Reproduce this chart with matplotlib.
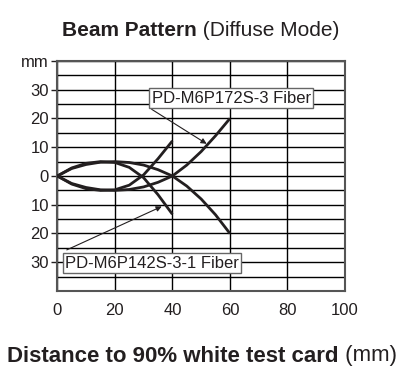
import matplotlib.pyplot as plt
import numpy as np

plt.rcParams['font.family'] = ['Liberation Sans', 'DejaVu Sans']

# PD-M6P142S-3-1 Fiber (short range)
x_short = [0, 5, 10, 15, 20, 25, 30, 35, 40]
y_short_up = [0, 2.8, 4.4, 5.0, 4.7, 3.0, -0.6, -6.5, -13.3]
y_short_down = [0, -2.8, -4.4, -5.0, -4.8, -3.2, 0.4, 6.0, 12.2]

# PD-M6P172S-3 Fiber (long range)
x_long = [0, 5, 10, 15, 20, 25, 30, 35, 40, 45, 50, 55, 60]
y_long_up = [0, 2.6, 4.0, 4.8, 5.0, 4.7, 3.8, 2.2, 0, -3.5, -8.0, -13.5, -20]
y_long_down = [0, -2.6, -4.0, -4.8, -5.0, -4.7, -3.8, -2.2, 0, 3.8, 8.5, 14.0, 20]

x_ticks = [0, 20, 40, 60, 80, 100]
y_ticks = [-30, -20, -10, 0, 10, 20, 30, 40]
y_labels = ['30', '20', '10', '0', '10', '20', '30', 'mm']

ink = '#231f20'

fig = plt.figure(figsize=(3.99, 3.69), dpi=100)
ax = fig.add_axes([0.1436, 0.2114, 0.7211, 0.6233])

for xs, ys in [(x_long, y_long_up), (x_long, y_long_down),
               (x_short, y_short_up), (x_short, y_short_down)]:
    ax.plot(xs, ys, color=ink, lw=2.0, solid_capstyle='butt', zorder=3)

ax.set_xlim(0, 100)
ax.set_ylim(-40, 40)
ax.set_xticks(x_ticks)
ax.set_yticks(y_ticks)
ax.set_yticklabels(y_labels)
ax.set_yticks(np.arange(-40, 45, 5), minor=True)
ax.tick_params(axis='x', length=0, pad=9, labelsize=12, labelcolor=ink)
ax.tick_params(axis='y', which='major', length=4, width=1, color=ink,
               pad=2, labelsize=12, labelcolor=ink)
ax.tick_params(axis='y', which='minor', length=0)
ax.grid(axis='x', which='major', color='black', lw=1)
ax.grid(axis='y', which='both', color='black', lw=1)
ax.set_axisbelow(True)
for sp in ax.spines.values():
    sp.set_color('#555555')
    sp.set_linewidth(1.5)

box = dict(boxstyle='square,pad=0.15', fc='white', ec='#666666', lw=1)
arrow = dict(arrowstyle='-|>', color=ink, lw=0.8, mutation_scale=8,
             shrinkA=0, shrinkB=0)
ax.text(60.5, 27, 'PD-M6P172S-3 Fiber', ha='center', va='center',
        fontsize=12, color=ink, bbox=box, zorder=5)
ax.annotate('', xy=(51.9, 11.2), xytext=(32.8, 23.2), arrowprops=arrow, zorder=4)
ax.text(32.9, -30.3, 'PD-M6P142S-3-1 Fiber', ha='center', va='center',
        fontsize=12, color=ink, bbox=box, zorder=5)
ax.annotate('', xy=(36.3, -10.6), xytext=(3.3, -25.7), arrowprops=arrow, zorder=4)


def two_part(x, y, bold, normal, size):
    # bold part followed by regular part, centred on (x, y) in figure pixels
    r = fig.canvas.get_renderer()
    t1 = fig.text(0, 0, bold, fontsize=size, fontweight='bold', color=ink, va='center')
    t2 = fig.text(0, 0, normal, fontsize=size, color=ink, va='center')
    w1 = t1.get_window_extent(r).width
    w2 = t2.get_window_extent(r).width
    x0 = x - (w1 + w2) / 2
    W, H = fig.bbox.width, fig.bbox.height
    t1.set_position((x0 / W, 1 - y / H))
    t2.set_position(((x0 + w1) / W, 1 - y / H))


two_part(201, 31, 'Beam Pattern', ' (Diffuse Mode)', 15)
two_part(202, 356, 'Distance to 90% white test card', ' (mm)', 16)

fig.savefig('out.png', dpi=100)
